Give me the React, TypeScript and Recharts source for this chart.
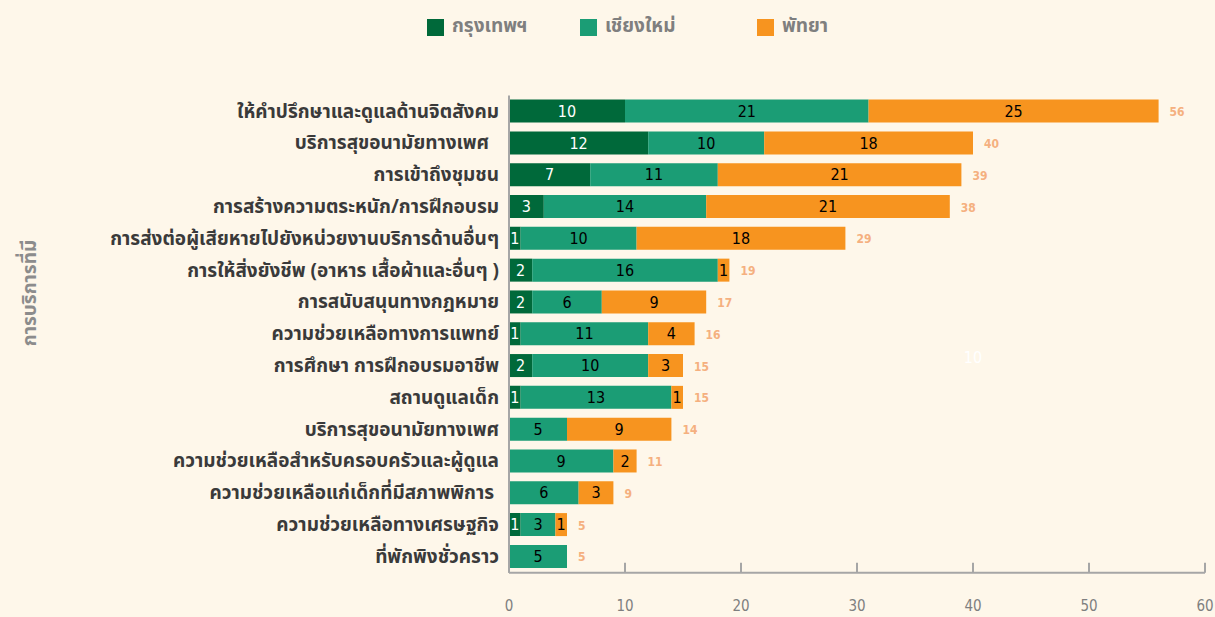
import React from 'react';
import { BarChart, Bar, XAxis, YAxis, LabelList, ReferenceDot } from 'recharts';

const categories = [
  'ให้คำปรึกษาและดูแลด้านจิตสังคม',
  'บริการสุขอนามัยทางเพศ\u00A0\u00A0',
  'การเข้าถึงชุมชน',
  'การสร้างความตระหนัก/การฝึกอบรม',
  'การส่งต่อผู้เสียหายไปยังหน่วยงานบริการด้านอื่นๆ',
  'การให้สิ่งยังชีพ (อาหาร เสื้อผ้าและอื่นๆ )',
  'การสนับสนุนทางกฎหมาย',
  'ความช่วยเหลือทางการแพทย์',
  'การศึกษา การฝึกอบรมอาชีพ',
  'สถานดูแลเด็ก',
  'บริการสุขอนามัยทางเพศ',
  'ความช่วยเหลือสำหรับครอบครัวและผู้ดูแล',
  'ความช่วยเหลือแก่เด็กที่มีสภาพพิการ\u00A0',
  'ความช่วยเหลือทางเศรษฐกิจ',
  'ที่พักพิงชั่วคราว',
];
const bangkok = [10, 12, 7, 3, 1, 2, 2, 1, 2, 1, 0, 0, 0, 1, 0];
const chiangmai = [21, 10, 11, 14, 10, 16, 6, 11, 10, 13, 5, 9, 6, 3, 5];
const pattaya = [25, 18, 21, 21, 18, 1, 9, 4, 3, 1, 9, 2, 3, 1, 0];
const seriesNames = ['กรุงเทพฯ', 'เชียงใหม่', 'พัทยา'];
const xTicks = [0, 10, 20, 30, 40, 50, 60];
const axisTitle = 'การบริการที่มี';
const strayLabel = { x: 40, row: 8, text: '10' };

const COLORS = ['#00693A', '#1B9D75', '#F7941F'];
const BG = '#FEF7EA';
const THAI_FONT = "'Noto Sans Thai', 'Noto Sans', 'DejaVu Sans', sans-serif";
const NUM_FONT = "'Liberation Sans Narrow', 'DejaVu Sans Condensed', 'DejaVu Sans', sans-serif";

const data = categories.map((name, i) => ({
  name,
  bkk: bangkok[i],
  cm: chiangmai[i],
  pty: pattaya[i],
  total: bangkok[i] + chiangmai[i] + pattaya[i],
}));

const fmt = (v: any) => (v ? v : '');

const CategoryTick = (props: any) => {
  const { x, y, payload } = props;
  return (
    <text
      x={x}
      y={y}
      dy={6}
      textAnchor="end"
      fill="#3A3A3A"
      fontFamily={THAI_FONT}
      fontWeight={700}
      fontSize={19}
      style={{ whiteSpace: 'pre' }}
    >
      {payload.value}
    </text>
  );
};

// Total label placed after the end of the stack, measured from the Chiang Mai segment
const TotalLabel = (props: any) => {
  const { x, y, width, height, index } = props;
  const row = data[index];
  if (!row) return null;
  const perUnit = Number(width) / row.cm;
  const end = Number(x) + perUnit * (row.cm + row.pty);
  return (
    <text
      x={end + 11}
      y={Number(y) + Number(height) / 2 + 5}
      fill="#F5B07F"
      fontFamily={NUM_FONT}
      fontWeight={700}
      fontSize={12}
      textAnchor="start"
    >
      {row.total}
    </text>
  );
};

const legendX = [427, 580, 757];

export default function App() {
  return (
    <div style={{ position: 'absolute', left: 0, top: 0, width: 1215, height: 617, background: BG, overflow: 'hidden' }}>
      {seriesNames.map((n, i) => (
        <div key={n} style={{ position: 'absolute', left: legendX[i], top: 18, height: 18, display: 'flex', alignItems: 'center' }}>
          <div style={{ width: 17, height: 17, background: COLORS[i], marginRight: 8 }} />
          <span style={{ fontFamily: THAI_FONT, fontWeight: 700, fontSize: 19, color: '#7F7F7F', lineHeight: '18px' }}>{n}</span>
        </div>
      ))}
      <div
        style={{
          position: 'absolute',
          left: 30,
          top: 293,
          transform: 'translate(-50%, -50%) rotate(-90deg)',
          whiteSpace: 'nowrap',
          fontFamily: THAI_FONT,
          fontWeight: 700,
          fontSize: 19,
          color: '#8C8C8C',
        }}
      >
        {axisTitle}
      </div>
      <div style={{ position: 'absolute', left: 0, top: 0 }}>
        <BarChart
          width={1215}
          height={617}
          data={data}
          layout="vertical"
          margin={{ top: 95.6, right: 10, bottom: 4.3, left: 9 }}
          barSize={23}
        >
          <XAxis
            type="number"
            domain={[0, 60]}
            ticks={xTicks}
            interval={0}
            height={40}
            axisLine={{ stroke: '#A6A6A6', strokeWidth: 2 }}
            tickLine={{ stroke: '#A6A6A6', strokeWidth: 2 }}
            tickSize={-10}
            tickMargin={38}
            tick={{ fill: '#7F7F7F', fontSize: 15, fontFamily: NUM_FONT }}
          />
          <YAxis
            type="category"
            dataKey="name"
            width={500}
            axisLine={{ stroke: '#A6A6A6', strokeWidth: 2 }}
            tickLine={false}
            tickSize={0}
            tickMargin={10}
            interval={0}
            tick={<CategoryTick />}
          />
          <Bar dataKey="bkk" stackId="a" fill={COLORS[0]} isAnimationActive={false}>
            <LabelList dataKey="bkk" position="center" formatter={fmt} fill="#FFFFFF" fontSize={16} fontFamily={NUM_FONT} />
          </Bar>
          <Bar dataKey="cm" stackId="a" fill={COLORS[1]} isAnimationActive={false}>
            <LabelList dataKey="cm" position="center" formatter={fmt} fill="#000000" fontSize={16} fontFamily={NUM_FONT} />
            <LabelList dataKey="total" content={<TotalLabel />} />
          </Bar>
          <Bar dataKey="pty" stackId="a" fill={COLORS[2]} isAnimationActive={false}>
            <LabelList dataKey="pty" position="center" formatter={fmt} fill="#000000" fontSize={16} fontFamily={NUM_FONT} />
          </Bar>
          <ReferenceDot
            x={strayLabel.x}
            y={categories[strayLabel.row]}
            r={0}
            fill="none"
            stroke="none"
            label={{ value: strayLabel.text, position: 'center', dy: -9, fill: '#FFFFFF', fontSize: 16, fontFamily: NUM_FONT }}
          />
        </BarChart>
      </div>
    </div>
  );
}
